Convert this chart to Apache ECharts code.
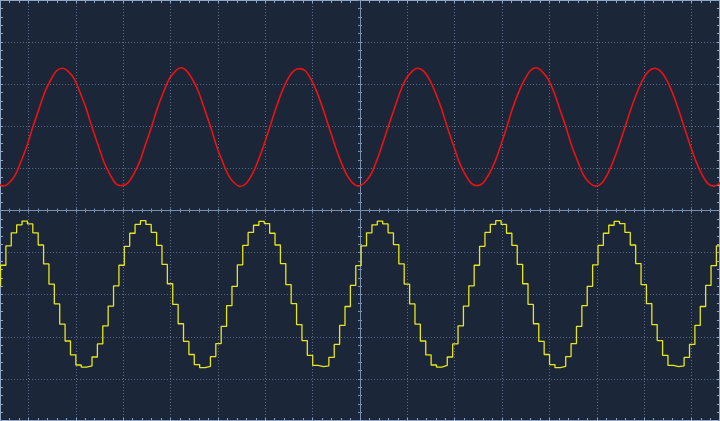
<!DOCTYPE html>
<html>
<head>
<meta charset="utf-8">
<script src="https://cdn.jsdelivr.net/npm/echarts@6/dist/echarts.min.js"></script>
<style>html,body{margin:0;padding:0;background:#1c2639;}#c{width:720px;height:421px;}</style>
</head>
<body>
<div id="c"></div>
<script>
// Time axis (divisions) and sample timing
const xMin = -7.6, xMax = 7.6;
const yMin = -5, yMax = 5;
const redStart = -7.655, redStep = 0.125;
const yelStart = -7.703, yelStep = 2.5 / 22;

// Channel 1 (red) values
const redValues = [
  0.66,
  0.58,0.66,0.84,1.17,1.54,1.99,2.40,2.81,3.10,3.32,3.38,3.30,3.12,2.79,2.42,1.97,1.56,1.15,0.86,0.64,
  0.59,0.65,0.86,1.15,1.56,1.97,2.42,2.79,3.12,3.30,3.39,3.31,3.10,2.81,2.40,1.99,1.54,1.17,0.84,0.66,
  0.57,0.64,0.85,1.17,1.55,1.98,2.41,2.80,3.11,3.31,3.37,3.32,3.11,2.80,2.41,1.98,1.55,1.16,0.85,0.65,
  0.58,0.66,0.84,1.16,1.56,1.99,2.40,2.81,3.12,3.30,3.38,3.31,3.10,2.79,2.42,1.97,1.56,1.15,0.86,0.65,
  0.59,0.65,0.86,1.15,1.54,1.97,2.42,2.80,3.10,3.32,3.39,3.30,3.12,2.81,2.40,1.99,1.54,1.17,0.84,0.66,
  0.58,0.64,0.85,1.17,1.55,1.98,2.41,2.79,3.11,3.31,3.38,3.31,3.11,2.80,2.41,1.98,1.55,1.16,0.85,0.64,
  0.58,0.65,0.85
];

const yellowValues = [
  -1.79,-1.30,
  -0.84,-0.53,-0.34,-0.25,-0.32,-0.53,-0.82,-1.27,-1.75,-2.22,-2.70,-3.10,-3.43,-3.67,-3.72,-3.69,-3.48,-3.17,-2.74,-2.27,-1.79,-1.30,
  -0.85,-0.54,-0.33,-0.24,-0.33,-0.52,-0.83,-1.28,-1.74,-2.23,-2.69,-3.11,-3.42,-3.66,-3.73,-3.70,-3.47,-3.16,-2.75,-2.26,-1.80,-1.29,
  -0.83,-0.52,-0.35,-0.26,-0.31,-0.54,-0.82,-1.26,-1.76,-2.21,-2.71,-3.09,-3.44,-3.68,-3.71,-3.69,-3.49,-3.18,-2.73,-2.28,-1.78,-1.31,
  -0.84,-0.53,-0.34,-0.25,-0.32,-0.53,-0.81,-1.27,-1.75,-2.22,-2.70,-3.10,-3.43,-3.67,-3.72,-3.68,-3.48,-3.17,-2.74,-2.27,-1.79,-1.30,
  -0.85,-0.52,-0.33,-0.24,-0.33,-0.54,-0.83,-1.28,-1.74,-2.23,-2.69,-3.11,-3.42,-3.66,-3.73,-3.70,-3.47,-3.16,-2.75,-2.26,-1.80,-1.29,
  -0.83,-0.54,-0.35,-0.26,-0.31,-0.52,-0.82,-1.26,-1.76,-2.21,-2.71,-3.09,-3.44,-3.68,-3.71,-3.69,-3.49,-3.18,-2.73,-2.28,-1.78,-1.31,
  -0.84,-0.53
];

const redData = redValues.map((v, i) => [redStart + i * redStep, v]);
const yellowData = yellowValues.map((v, i) => [yelStart + i * yelStep, v]);

const frameColor = '#8ea6c8';
const centerColor = '#7890b2';
const dotColor = '#5a6d8d';
const pxPerDiv = 720 / (xMax - xMin);
const wideOff = 360 - 8 * pxPerDiv;

const chart = echarts.init(document.getElementById('c'), null, {renderer: 'canvas'});
const hidden = {show: false};
const frameX = (pos) => ({
  gridIndex: 0, type: 'value', position: pos, min: xMin, max: xMax, interval: 0.2,
  axisLine: {show: true, onZero: false, lineStyle: {color: frameColor, width: 2}},
  axisTick: {show: true, inside: true, length: 3, lineStyle: {color: frameColor, width: 1}},
  axisLabel: hidden, splitLine: hidden
});
const frameY = (pos) => ({
  gridIndex: 0, type: 'value', position: pos, min: yMin, max: yMax, interval: 0.2,
  axisLine: {show: true, onZero: false, lineStyle: {color: frameColor, width: 2}},
  axisTick: {show: true, inside: true, length: 3, lineStyle: {color: frameColor, width: 1}},
  axisLabel: hidden, splitLine: hidden
});
const centerX = (g, inside) => ({
  gridIndex: g, type: 'value', min: xMin, max: xMax, interval: 0.2,
  axisLine: {show: true, onZero: true, lineStyle: {color: centerColor, width: 1}},
  axisTick: {show: true, inside: inside, length: 2, lineStyle: {color: centerColor, width: 1}},
  axisLabel: hidden, splitLine: hidden
});
const centerY = (g, inside) => ({
  gridIndex: g, type: 'value', min: yMin, max: yMax, interval: 0.2,
  axisLine: {show: true, onZero: true, lineStyle: {color: centerColor, width: 1}},
  axisTick: {show: true, inside: inside, length: 2, lineStyle: {color: centerColor, width: 1}},
  axisLabel: hidden, splitLine: hidden
});

chart.setOption({
  backgroundColor: '#1c2639',
  animation: false,
  grid: [
    {left: 0, right: 0, top: 0, bottom: 0, outerBoundsMode: 'none'},
    {left: wideOff, right: wideOff, top: 0, bottom: 0, outerBoundsMode: 'none'},
    {left: 0, right: 0, top: 0, bottom: 0, outerBoundsMode: 'none'},
    {left: 0, right: 0, top: 0, bottom: 0, outerBoundsMode: 'none'}
  ],
  xAxis: [
    frameX('top'),
    frameX('bottom'),
    {
      gridIndex: 1, type: 'value', min: -8, max: 8, interval: 1,
      axisLine: hidden, axisTick: hidden, axisLabel: hidden,
      splitLine: {show: true, lineStyle: {color: dotColor, width: 1, type: [1, 2]}}
    },
    centerX(2, true),
    centerX(3, false)
  ],
  yAxis: [
    frameY('left'),
    frameY('right'),
    {
      gridIndex: 1, type: 'value', min: yMin, max: yMax, interval: 1,
      axisLine: hidden, axisTick: hidden, axisLabel: hidden,
      splitLine: {show: true, lineStyle: {color: dotColor, width: 1, type: [1, 2]}}
    },
    centerY(2, true),
    centerY(3, false)
  ],
  series: [
    {
      name: 'CH1', type: 'line', xAxisIndex: 0, yAxisIndex: 0,
      data: redData, smooth: 0.35, symbol: 'none',
      lineStyle: {color: '#ee1111', width: 1.6}, z: 5
    },
    {
      name: 'CH2', type: 'line', xAxisIndex: 0, yAxisIndex: 0,
      data: yellowData, step: 'end', symbol: 'none',
      lineStyle: {color: '#e6e61c', width: 1.3}, z: 5
    }
  ]
});
</script>
</body>
</html>
